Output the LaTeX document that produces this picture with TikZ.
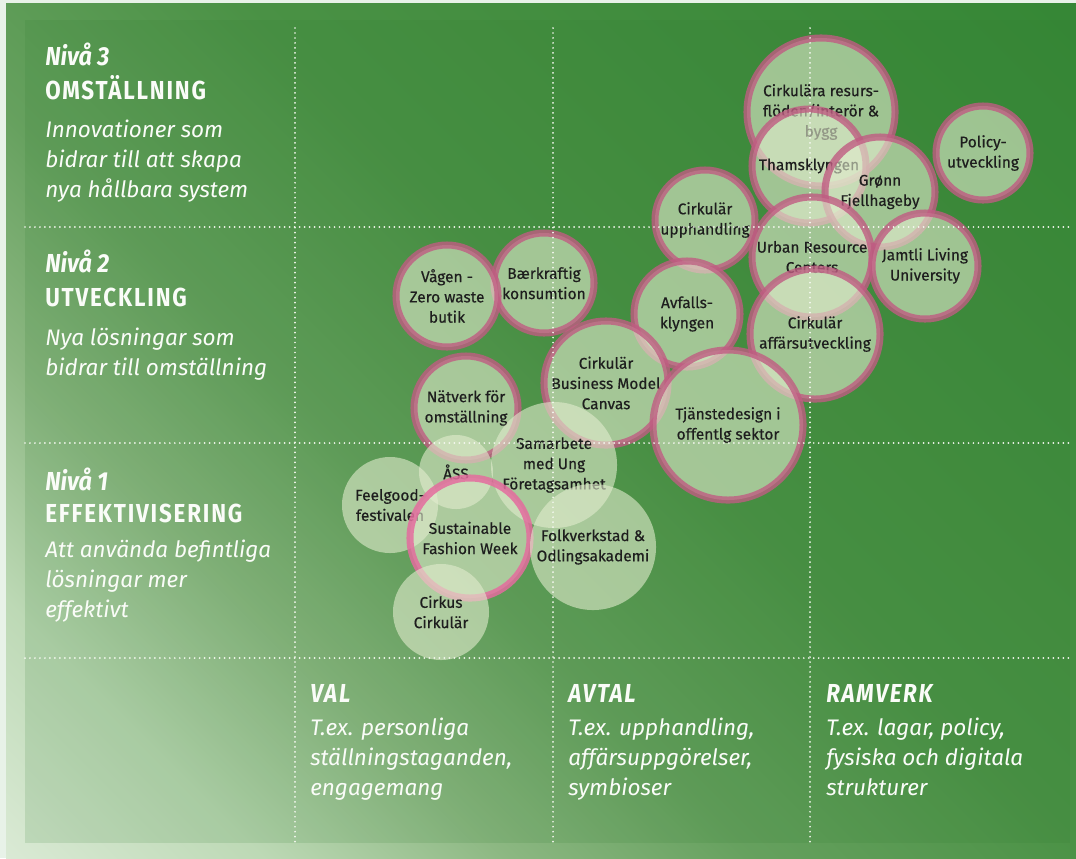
\documentclass[tikz,border=0pt]{standalone}
\usepackage{fontspec}
\setmainfont{Fira Sans}
\newfontfamily\headfont[FakeStretch=0.9]{Fira Sans}
\newfontfamily\capsfont[FakeStretch=0.86,LetterSpace=7]{Fira Sans}
\newfontfamily\bubblefont[FakeBold=0.4]{Fira Sans}
\usetikzlibrary{shapes}
\definecolor{ringpink}{RGB}{192,92,130}
\definecolor{sfwpink}{RGB}{228,108,158}
\definecolor{bubblefill}{RGB}{226,236,206}
\definecolor{labeltext}{RGB}{30,30,30}
\definecolor{gridwhite}{RGB}{245,248,240}
\definecolor{paneltint}{RGB}{50,125,50}
\definecolor{textwhite}{RGB}{250,252,248}
\definecolor{margin}{RGB}{232,242,232}
\pgfdeclarehorizontalshading{bggreen}{100bp}{rgb(0bp)=(0.87,0.93,0.86); rgb(14bp)=(0.86,0.92,0.84); rgb(24bp)=(0.74,0.85,0.71); rgb(33bp)=(0.55,0.72,0.51); rgb(42bp)=(0.40,0.63,0.37); rgb(55bp)=(0.29,0.57,0.27); rgb(85bp)=(0.21,0.53,0.21); rgb(100bp)=(0.21,0.53,0.21)}
\tikzstyle{bubble}=[circle,fill=bubblefill,fill opacity=0.6,draw=ringpink,draw opacity=0.8,line width=5pt,text opacity=1,text=labeltext,inner sep=0pt,align=center,font=\bubblefont\fontsize{11}{14.4}\selectfont]
\tikzstyle{softbubble}=[circle,fill=bubblefill,fill opacity=0.6,text opacity=1,text=labeltext,inner sep=0pt,align=center,font=\bubblefont\fontsize{11}{14.4}\selectfont]
\tikzstyle{gridline}=[draw=gridwhite,line width=1.4pt,line cap=round,dash pattern=on 0pt off 3.55pt]
\tikzstyle{nivatitle}=[anchor=base west,inner sep=0pt,text=textwhite,font=\headfont\bfseries\itshape\fontsize{18.5}{20}\selectfont]
\tikzstyle{nivaname}=[anchor=base west,inner sep=0pt,text=textwhite,font=\capsfont\bfseries\fontsize{18.5}{20}\selectfont]
\tikzstyle{coltitle}=[anchor=base west,inner sep=0pt,text=textwhite,font=\capsfont\bfseries\itshape\fontsize{18.5}{20}\selectfont]
\tikzstyle{nivatext}=[anchor=base west,inner sep=0pt,align=left,text=textwhite,font=\itshape\fontsize{16}{21.3}\selectfont]

\begin{document}
\begin{tikzpicture}[x=0.025cm,y=-0.025cm]
          \useasboundingbox (0,0) rectangle (1076,858);
          % background and panel
          \fill[margin] (0,0) rectangle (1076,858);
          \shade[shading=bggreen,shading angle=45] (6,3) rectangle (1076,858);
          \fill[paneltint,opacity=0.15] (25,20) rectangle (1070,843);
          % level 3 and 2 ideas
          \node[bubble,minimum size=3.7cm] (a) at (821,112) {Cirkulära resurs-\\flöden/interör \&\\bygg};
          \node[bubble,minimum size=2.85cm] (b) at (809,166) {Thamsklyngen};
          \node[bubble,minimum size=2.75cm] (c) at (880,192) {Grønn\\Fjellhageby};
          \node[bubble,minimum size=2.35cm] (d) at (983,153) {Policy-\\utveckling};
          \node[bubble,minimum size=2.5cm] (e) at (705,220) {Cirkulär\\upphandling};
          \node[bubble,minimum size=3cm] (f) at (812,257) {Urban Resource\\Centers};
          \node[bubble,minimum size=2.65cm] (g) at (925,266) {Jamtli Living\\University};
          \node[bubble,minimum size=2.65cm] (h) at (687,314) {Avfalls-\\klyngen};
          \node[bubble,minimum size=3.25cm] (i) at (815,334) {Cirkulär\\affärsutveckling};
          \node[bubble,minimum size=3.1cm] (k) at (606,383) {Cirkulär\\Business Model\\Canvas};
          \node[bubble,minimum size=3.75cm] (j) at (728,425) {Tjänstedesign i\\offentlg sektor};
          \node[bubble,minimum size=2.5cm] (l) at (544,283) {Bærkraftig\\konsumtion};
          \node[bubble,minimum size=2.55cm] (m) at (447,296) {Vågen -\\Zero waste\\butik};
          \node[bubble,minimum size=2.6cm] (n) at (466,408) {Nätverk för\\omställning};
          % level 1 ideas
          \node[softbubble,minimum size=3.15cm] (o) at (554,465) {Samarbete\\med Ung\\Företagsamhet};
          \node[softbubble,minimum size=1.85cm] (p) at (456,472) {ÅSS};
          \node[softbubble,minimum size=2.4cm] (q) at (390,505) {Feelgood-\\festivalen};
          \node[bubble,minimum size=3cm,draw=sfwpink,draw opacity=0.85] (r) at (470,538) {Sustainable\\Fashion Week};
          \node[softbubble,minimum size=3.15cm] (s) at (593,547) {Folkverkstad \&\\Odlingsakademi};
          \node[softbubble,minimum size=2.4cm] (t) at (441,612) {Cirkus\\Cirkulär};
          % grid
          \draw[gridline] (295,28) -- (295,843);
          \draw[gridline] (553,28) -- (553,843);
          \draw[gridline] (810,28) -- (810,843);
          \draw[gridline] (25,227) -- (1070,227);
          \draw[gridline] (25,443) -- (1070,443);
          \draw[gridline] (25,658) -- (1070,658);
          % rows (a text node sits on its last line)
          \node[nivatitle] (n3) at (45,65) {Nivå 3};
          \node[nivaname] (o3) at (45,99) {OMSTÄLLNING};
          \node[nivatext] (t3) at (45,197) {Innovationer som\\bidrar till att skapa\\nya hållbara system};
          \node[nivatitle] (n2) at (45,272) {Nivå 2};
          \node[nivaname] (o2) at (45,306) {UTVECKLING};
          \node[nivatext] (t2) at (45,375) {Nya lösningar som\\bidrar till omställning};
          \node[nivatitle] (n1) at (45,490) {Nivå 1};
          \node[nivaname] (o1) at (45,522) {EFFEKTIVISERING};
          \node[nivatext] (t1) at (45,617) {Att använda befintliga\\lösningar mer\\effektivt};
          % columns
          \node[coltitle] (val) at (310,702) {VAL};
          \node[nivatext] (valt) at (310,795) {T.ex. personliga\\ställningstaganden,\\engagemang};
          \node[coltitle] (avtal) at (568,702) {AVTAL};
          \node[nivatext] (avtalt) at (568,795) {T.ex. upphandling,\\affärsuppgörelser,\\symbioser};
          \node[coltitle] (ram) at (826,702) {RAMVERK};
          \node[nivatext] (ramt) at (826,795) {T.ex. lagar, policy,\\fysiska och digitala\\strukturer};
        \end{tikzpicture}
\end{document}
